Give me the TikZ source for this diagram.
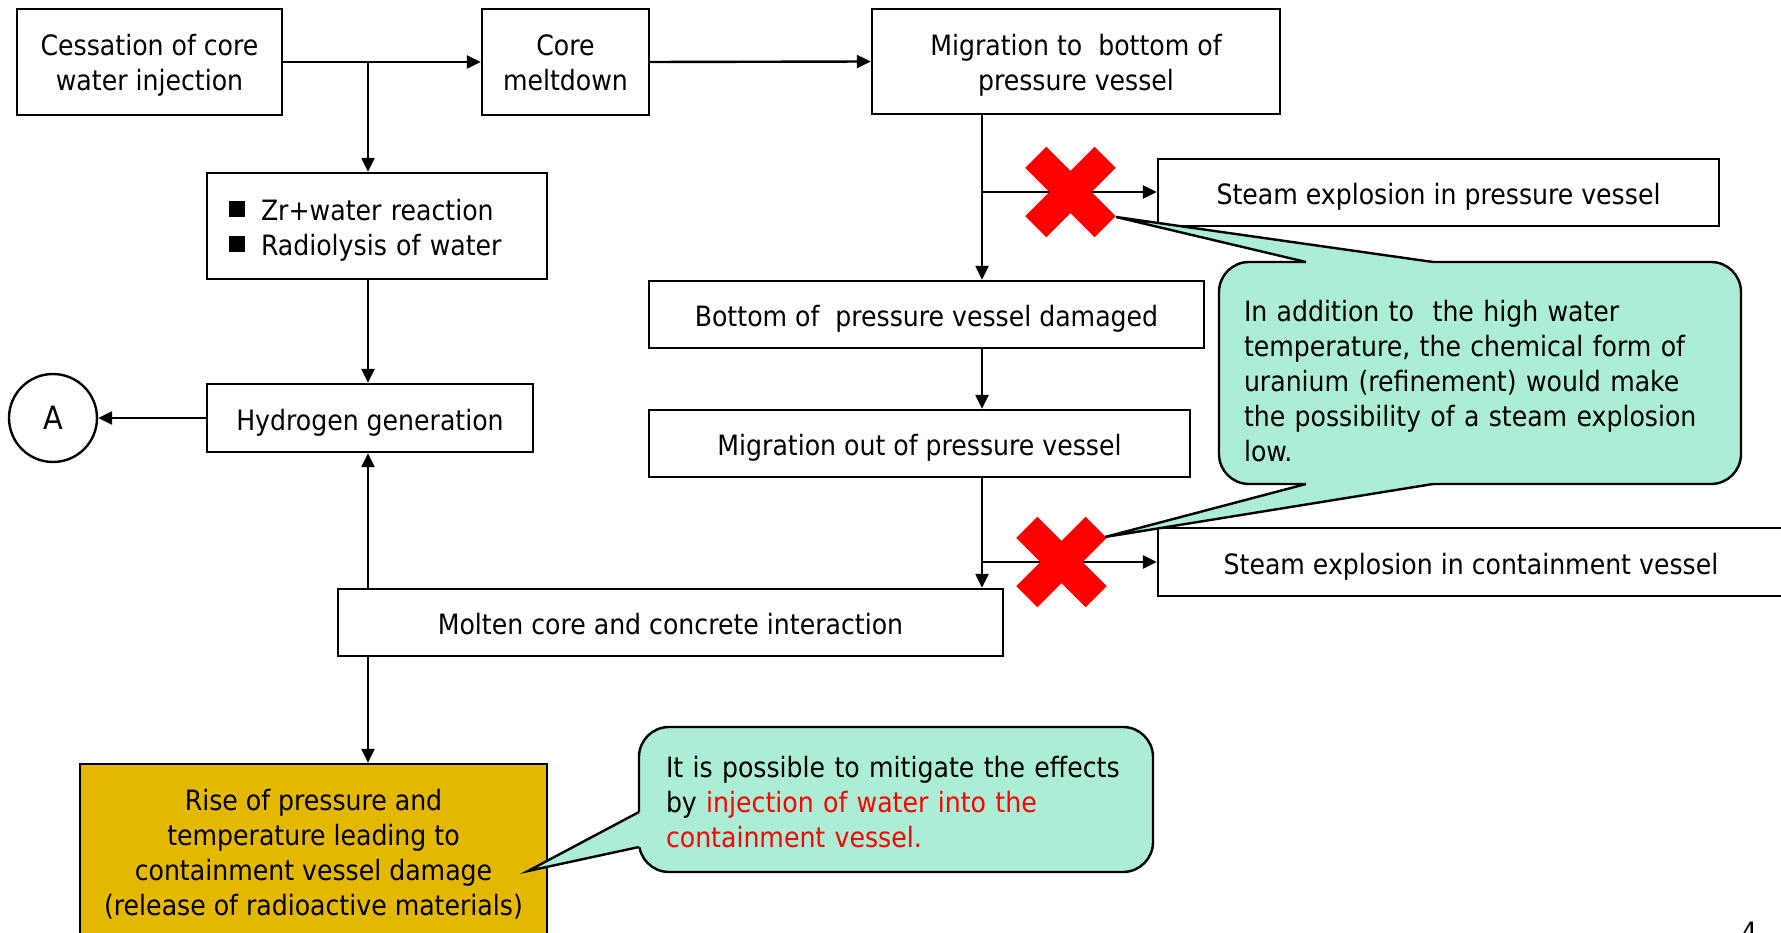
\documentclass[tikz,border=0pt]{standalone}
\usepackage{fontspec}
\setmainfont{DejaVu Sans Condensed}
\usetikzlibrary{arrows.meta,calc}
\definecolor{calloutfill}{HTML}{ABEED5}
\definecolor{goldfill}{HTML}{E5B800}
\newcommand{\myfs}{\fontsize{28pt}{35pt}\selectfont}
\newcommand{\sqbullet}{\raisebox{3pt}{\rule{16pt}{16pt}}\hspace{16pt}}
\newcommand{\topst}[1]{\rule{0pt}{#1}}
\newcommand{\botst}{\rule[-7pt]{0pt}{7pt}}
\begin{document}
\begin{tikzpicture}[x=1pt,y=-1pt,
  mbox/.style={draw, line width=2.4pt, align=center, inner sep=0pt, font=\myfs},
  box/.style={mbox, execute at begin node={\rule{0pt}{31pt}}, execute at end node={\rule[-7pt]{0pt}{7pt}}},
  conn/.style={line width=2.4pt, -{Triangle[length=14pt,width=13pt]}},
  xbar/.style={fill=red, minimum width=98pt, minimum height=30pt, inner sep=0pt},
  callout/.style={draw, line width=2.4pt, fill=calloutfill, rounded corners=30pt, font=\myfs, align=left, inner ysep=0pt},
  pointer/.style={line width=2.4pt, line join=miter}]
\useasboundingbox (0,0) rectangle (1781,933);

% boxes
\node[mbox, minimum width=265pt, minimum height=106pt] (c1) at (149.5,62) {\topst{29.5pt}Cessation of core\\water injection\botst};
\node[mbox, minimum width=167pt, minimum height=106pt] (core) at (565.5,62) {\topst{29.5pt}Core\\meltdown\botst};
\node[mbox, minimum width=408pt, minimum height=105pt] (mig) at (1076,61.5) {\topst{29.5pt}Migration to\ \ bottom of\\pressure vessel\botst};
\node[box, minimum width=340pt, minimum height=106pt, text width=296pt, inner xsep=22pt, align=left] (zr) at (377,226) {\sqbullet Zr+water reaction\\\sqbullet Radiolysis of water};
\node[box, minimum width=326pt, minimum height=68pt] (hyd) at (370,418) {Hydrogen generation};
\node[circle, draw, line width=2.4pt, minimum size=88pt, inner sep=0pt, font=\fontsize{32pt}{38pt}\selectfont] (A) at (53,418) {A};
\node[box, minimum width=561pt, minimum height=67pt] (spv) at (1438.5,192.5) {Steam explosion in pressure vessel};
\node[box, minimum width=555pt, minimum height=67pt] (bpd) at (926.5,314.5) {Bottom of\ \ pressure vessel damaged};
\node[box, minimum width=541pt, minimum height=67pt] (mout) at (919.5,443.5) {Migration out of pressure vessel};
\node[box, minimum width=626pt, minimum height=68pt] (scv) at (1471,562) {Steam explosion in containment vessel};
\node[box, minimum width=665pt, minimum height=67pt] (mcc) at (670.5,622.5) {Molten core and concrete interaction};
\node[mbox, fill=goldfill, minimum width=467pt, minimum height=176pt] (rise) at (313.5,852) {\topst{29.5pt}Rise of pressure and\\temperature leading to\\containment vessel damage\\(release of radioactive materials)\botst};

% junctions
\coordinate (j1) at (368,62);
\coordinate (j2) at (982,192);
\coordinate (j3) at (982,562);

% connectors
\draw[conn] (c1.east) -- (core.west);
\draw[conn] (j1) -- (j1 |- zr.north);
\draw[conn] (core.east) -- (mig.west);
\draw[conn] (zr.south -| j1) -- (hyd.north -| j1);
\draw[conn] (hyd.west) -- (A.east);
\draw[conn] (mig.south -| j2) -- (bpd.north -| j2);
\draw[conn] (j2) -- (spv.west |- j2);
\draw[conn] (bpd.south -| j2) -- (mout.north -| j2);
\draw[conn] (mout.south -| j2) -- (mcc.north -| j2);
\draw[conn] (j3) -- (scv.west |- j3);
\draw[conn] (mcc.north -| j1) -- (hyd.south -| j1);
\draw[conn] (mcc.south -| j1) -- (rise.north -| j1);

% red crosses
\node[xbar, rotate=45] (x1a) at (1070.5,192) {};
\node[xbar, rotate=-45] (x1b) at (1070.5,192) {};
\node[xbar, rotate=45] (x2a) at (1061.5,562) {};
\node[xbar, rotate=-45] (x2b) at (1061.5,562) {};

% callout 1
\node[callout, minimum width=522pt, minimum height=222pt, text width=472pt, inner xsep=25pt] (co1) at (1480,373)
 {\topst{45pt}In addition to\ \ the high water\\temperature, the chemical form of\\uranium (refinement) would make\\the possibility of a steam explosion\\low.\botst};
\coordinate (t1) at (1116,217);
\coordinate (b1a) at (1306,262);
\coordinate (b1b) at (1433,262);
\fill[calloutfill] (b1a) -- (t1) -- (b1b) -- ($(b1b)+(0,4)$) -- ($(b1a)+(0,4)$) -- cycle;
\draw[pointer] (b1a) -- (t1) -- (b1b);
\coordinate (t2) at (1105,537);
\coordinate (b2a) at (1306,484);
\coordinate (b2b) at (1433,484);
\fill[calloutfill] (b2a) -- (t2) -- (b2b) -- ($(b2b)+(0,-4)$) -- ($(b2a)+(0,-4)$) -- cycle;
\draw[pointer] (b2a) -- (t2) -- (b2b);

% callout 2
\node[callout, minimum width=514pt, minimum height=145pt, text width=460pt, inner xsep=27pt] (co2) at (896,799.5)
 {\topst{33pt}It is possible to mitigate the effects\\by {\color{red}injection of water into the}\\{\color{red}containment vessel.}\botst};
\coordinate (t3) at (528,871);
\coordinate (b3a) at (639,812);
\coordinate (b3b) at (639,847);
\fill[calloutfill] (b3a) -- (t3) -- (b3b) -- ($(b3b)+(4,0)$) -- ($(b3a)+(4,0)$) -- cycle;
\draw[pointer] (b3a) -- (t3) -- (b3b);

% page number (cut off at the lower edge, as in the reference)
\node[font=\myfs, inner sep=0pt, anchor=north] (pg) at (1749,922) {4};
\end{tikzpicture}
\end{document}
